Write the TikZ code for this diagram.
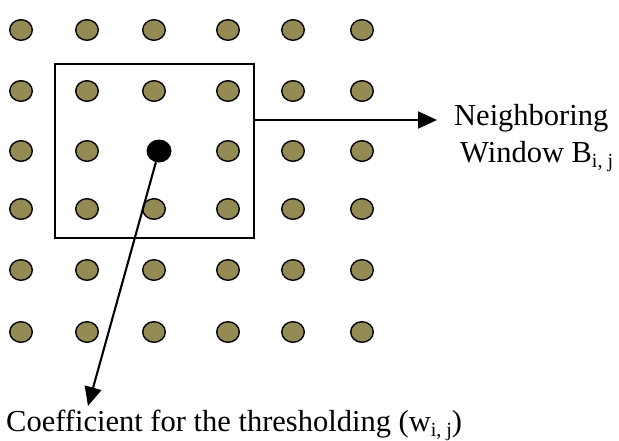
\documentclass[tikz,border=0pt]{standalone}
\usepackage{fontspec}
\setmainfont{Liberation Serif}
\usetikzlibrary{shapes.geometric,arrows.meta}

\newcommand{\subij}{\raisebox{-0.18em}{\fontsize{20}{20}\selectfont i, j}}

\begin{document}
\begin{tikzpicture}[x=1pt,y=-1pt]
  % Define coefficient colors
  \definecolor{coefolive}{RGB}{148,138,84}

  \tikzset{
    coef/.style={ellipse, draw=black, line width=1.4pt, fill=coefolive,
      minimum width=22.6pt, minimum height=20.6pt, inner sep=0pt},
    pointer/.style={line width=2.1pt, -{Triangle[length=19pt,width=17pt]}},
    txt/.style={font=\fontsize{30.5}{36}\selectfont, inner sep=0pt, anchor=base west}
  }

  \useasboundingbox (0,0) rectangle (619,440);

  % Draw the coefficient grid (skip the centre one)
  \foreach \r/\y in {1/30,2/91,3/151,4/209,5/270,6/332} {
    \foreach \c/\x in {1/21,2/87,3/154,4/228,5/293,6/362} {
      \ifnum\r\c=33 \else
        \node[coef] (c-\r-\c) at (\x,\y) {};
      \fi
    }
  }

  % Current coefficient
  \node[ellipse, fill=black, minimum width=25pt, minimum height=23pt,
    inner sep=0pt] (wij) at (159,151) {};

  % Neighboring window
  \node[draw, line width=1.4pt, minimum width=199pt, minimum height=174pt,
    inner sep=0pt] (window) at (154.5,151) {};

  % Labels
  \node[txt] (neigh) at (454,125) {Neighboring};
  \node[txt] (winlbl) at (460,162) {Window B\subij};
  \node[txt] (coeflbl) at (6,431) {Coefficient for the thresholding (w\subij)};

  % Pointers
  \coordinate (winend) at (437,120);
  \coordinate (coefend) at (88,406);
  \draw[pointer] (window.east |- winend) -- (winend);
  \draw[pointer] (wij) -- (coefend);
\end{tikzpicture}
\end{document}
